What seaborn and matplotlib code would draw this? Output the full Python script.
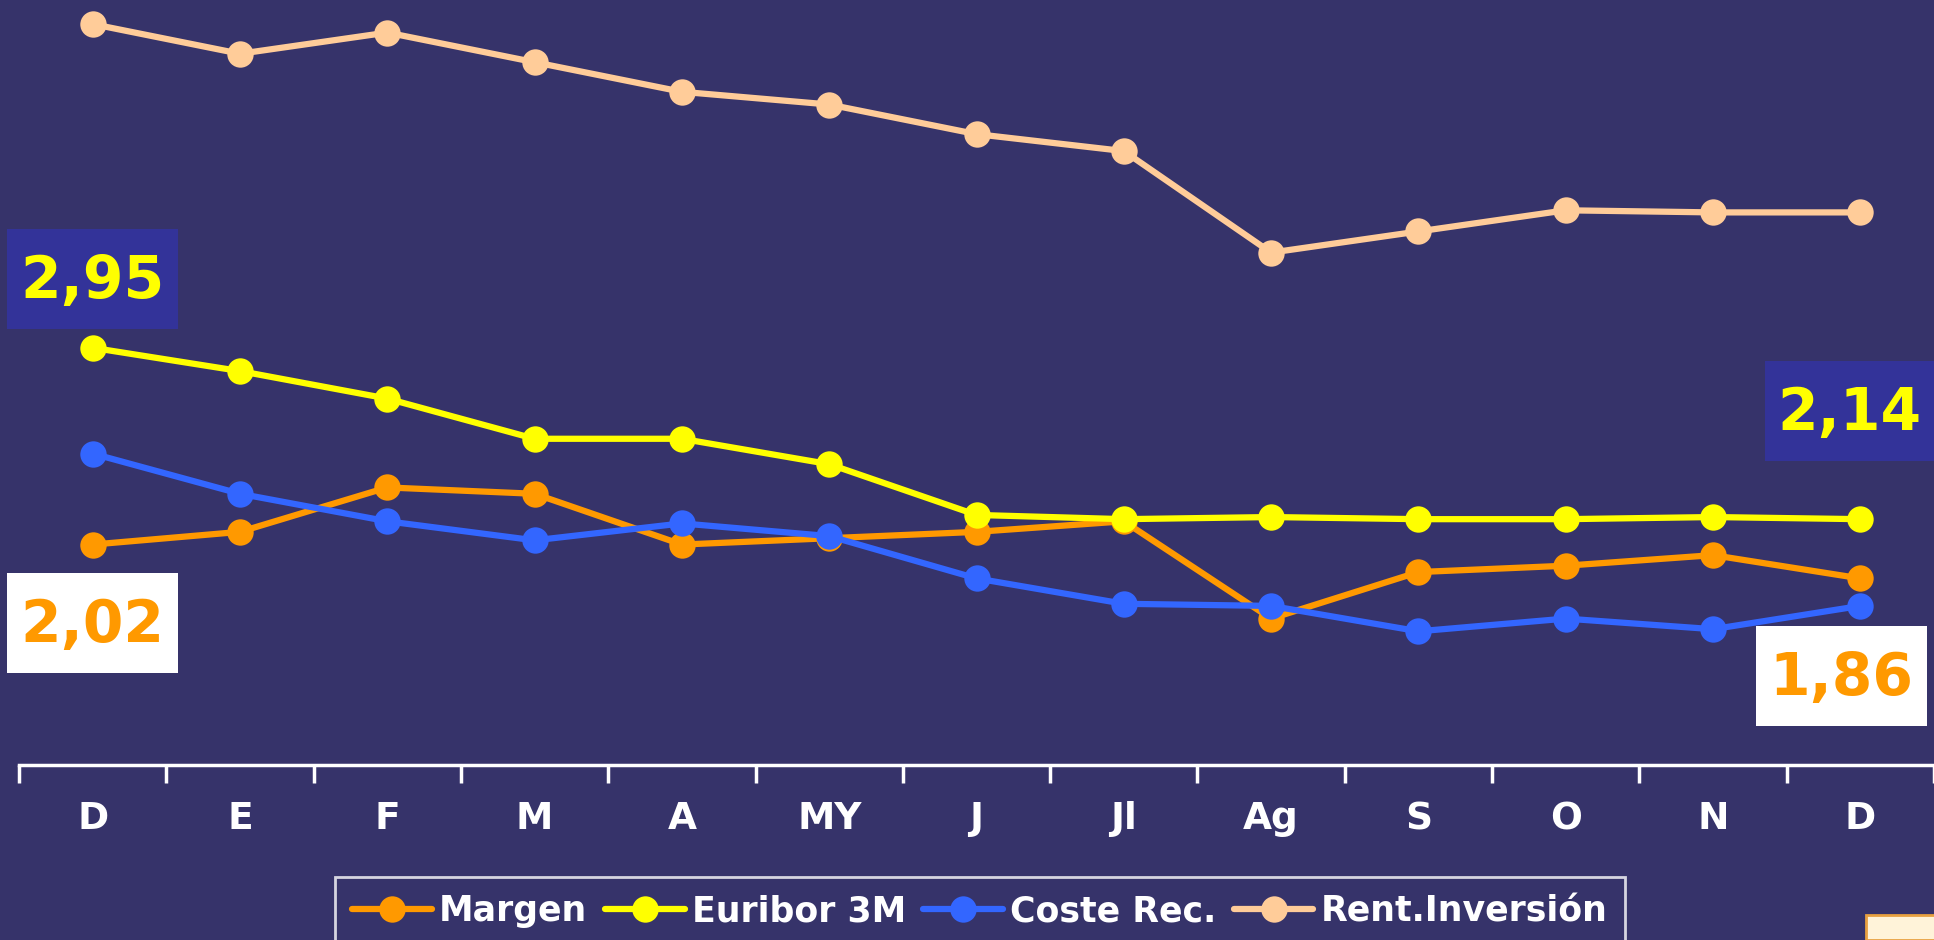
import numpy as np
import pandas as pd
import matplotlib
matplotlib.use("Agg")
import matplotlib.pyplot as plt
import seaborn as sns
from matplotlib.lines import Line2D
from matplotlib.patches import Rectangle

months = ["D", "E", "F", "M", "A", "MY", "J", "Jl", "Ag", "S", "O", "N", "D"]
margen = [2.02, 2.08, 2.29, 2.26, 2.02, 2.05, 2.08, 2.13, 1.67, 1.89, 1.92, 1.97, 1.86]
euribor = [2.95, 2.84, 2.71, 2.52, 2.52, 2.40, 2.16, 2.14, 2.15, 2.14, 2.14, 2.15, 2.14]
coste = [2.45, 2.26, 2.13, 2.04, 2.12, 2.06, 1.86, 1.74, 1.73, 1.61, 1.67, 1.62, 1.73]
rent = [4.48, 4.34, 4.44, 4.30, 4.16, 4.10, 3.96, 3.88, 3.40, 3.50, 3.60, 3.59, 3.59]

series_names = ["Margen", "Euribor 3M", "Coste Rec.", "Rent.Inversión"]
series_vals = [margen, euribor, coste, rent]
colors = ["#FF9900", "#FFFF00", "#3366FF", "#FFCC99"]

BG = "#36336A"
BOXBLUE = "#333399"

sns.set_theme(style="white")
plt.rcParams['font.family'] = ['DejaVu Sans']

fig = plt.figure(figsize=(19.34, 9.40), dpi=100, facecolor=BG)
ax = fig.add_axes([19/1934, 1 - 765/940, 1 - 19/1934, 765/940])
ax.set_facecolor(BG)

rows = []
for name, vals in zip(series_names, series_vals):
    for i, v in enumerate(vals):
        rows.append({"pos": i, "value": v, "serie": name})
df = pd.DataFrame(rows)

for name, col in zip(series_names, colors):
    sub = df[df["serie"] == name]
    sns.lineplot(data=sub, x="pos", y="value", ax=ax, color=col, linewidth=4.5,
                 marker="o", markersize=19, markeredgewidth=0, legend=False)

ax.set_xlim(-0.5, 12.5)
ax.set_ylim(0.978, 4.594)
ax.set_xlabel("")
ax.set_ylabel("")
ax.set_yticks([])
ax.set_xticks(range(len(months)))
ax.set_xticklabels(months, color="white", fontsize=27, fontweight="heavy")
ax.set_xticks(np.arange(-0.5, 12.6, 1.0), minor=True)
ax.tick_params(axis="x", which="major", bottom=True, length=0, pad=26)
ax.tick_params(axis="x", which="minor", bottom=True, length=13, width=2.5, color="white", direction="out")
for s in ["top", "left", "right"]:
    ax.spines[s].set_visible(False)
ax.spines["bottom"].set_color("white")
ax.spines["bottom"].set_linewidth(2.5)

def label_box(x0, y0, x1, y1, text, fc, tc):
    fig.patches.append(Rectangle((x0/1934, 1 - y1/940), (x1 - x0)/1934, (y1 - y0)/940,
                                 transform=fig.transFigure, facecolor=fc, edgecolor="none", zorder=5))
    fig.text((x0 + x1)/2/1934, 1 - (y0 + y1)/2/940 - 0.003, text, ha="center", va="center",
             fontsize=42, fontweight="heavy", color=tc, zorder=6)

label_box(7, 229, 178, 329, "2,95", BOXBLUE, "#FFFF00")
label_box(7, 573, 178, 673, "2,02", "white", "#FF9900")
label_box(1765, 361, 1934, 461, "2,14", BOXBLUE, "#FFFF00")
label_box(1756, 626, 1927, 726, "1,86", "white", "#FF9900")

handles = [Line2D([0], [0], color=c, linewidth=4.5, marker="o", markersize=19, markeredgewidth=0)
           for c in colors]
leg = fig.legend(handles, series_names, loc="upper left", bbox_to_anchor=(335/1934, 1 - 877/940),
                 ncol=4, frameon=True, facecolor=BG, edgecolor="white", fancybox=False,
                 fontsize=25, handlelength=2.3, handletextpad=0.2, columnspacing=0.5,
                 borderpad=0.5, borderaxespad=0)
leg.get_frame().set_linewidth(2)
for t in leg.get_texts():
    t.set_color("white")
    t.set_fontweight("heavy")

fig.patches.append(Rectangle((1866/1934, 0), 80/1934, 25/940, transform=fig.transFigure,
                             facecolor="#FFF3D9", edgecolor="#E8A040", linewidth=2, zorder=5))

fig.savefig("out.png", dpi=100, facecolor=BG)
